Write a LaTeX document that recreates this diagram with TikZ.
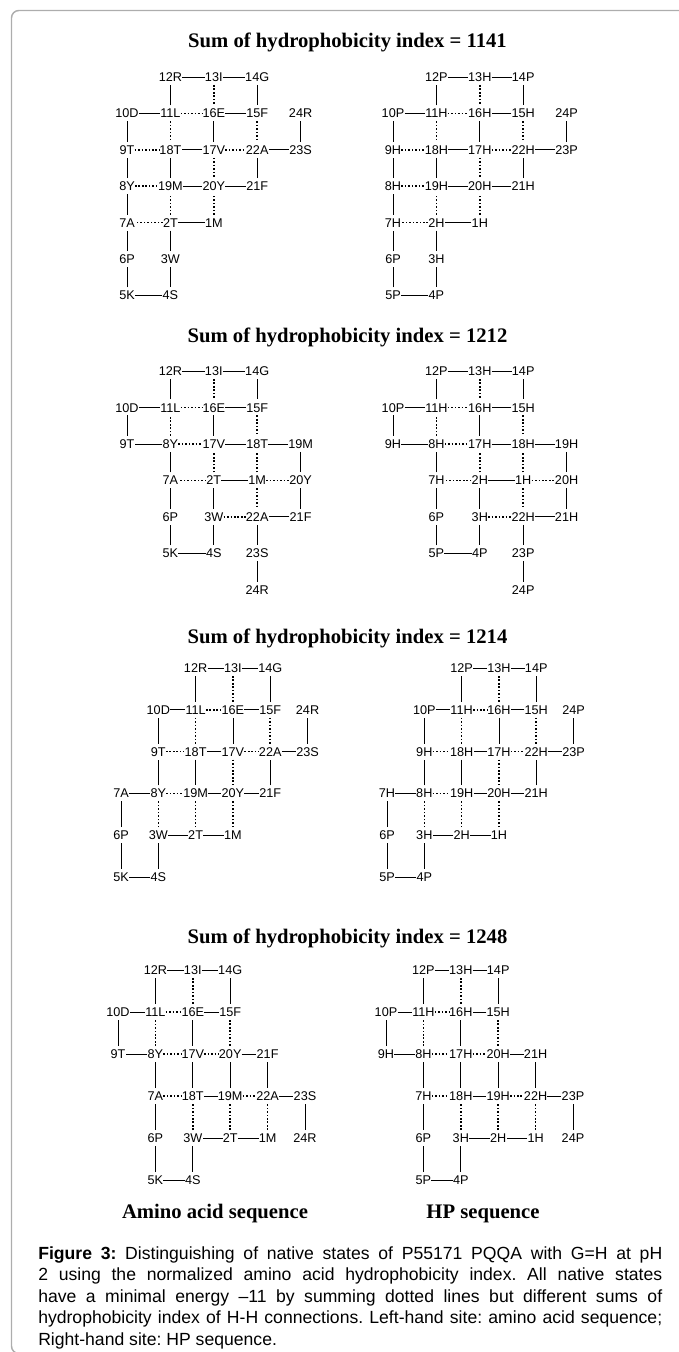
\documentclass[tikz,border=0pt]{standalone}
\usepackage{fontspec}
\setmainfont{Liberation Serif}
\setsansfont{Liberation Sans}
\usetikzlibrary{positioning}

\begin{document}
\begin{tikzpicture}[
  x=0.75pt, y=-0.75pt,
  res/.style={font=\sffamily\fontsize{9.5}{11}\selectfont, inner xsep=0pt, inner ysep=2.4pt, text height=6.8pt, text depth=0pt},
  bond/.style={line width=0.6pt},
  contact/.style={line width=1.2pt, dash pattern=on 1.2pt off 1.4pt},
  heading/.style={font=\fontsize{15.5}{18}\selectfont\bfseries, inner sep=0pt},
  frame/.style={draw=black!32, line width=1.1pt, rounded corners=5.5pt}
]
\useasboundingbox (0,0) rectangle (678,1352);
\draw[frame] (720,10.5) -- (11.5,10.5) -- (11.5,1353.5) -- (720,1353.5);

% fold 1
\node[heading, anchor=base] (t1) at (347.5,48) {Sum of hydrophobicity index = 1141};
\begin{scope}[shift={(127,77)}, x=32.55pt, y=-27.3pt]
  \foreach \i/\a/\h/\c/\r in {1/M/H/2/4, 2/T/H/1/4, 3/W/H/1/5, 4/S/P/1/6, 5/K/P/0/6, 6/P/P/0/5,
      7/A/H/0/4, 8/Y/H/0/3, 9/T/H/0/2, 10/D/P/0/1, 11/L/H/1/1, 12/R/P/1/0, 13/I/H/2/0, 14/G/P/3/0,
      15/F/H/3/1, 16/E/H/2/1, 17/V/H/2/2, 18/T/H/1/2, 19/M/H/1/3, 20/Y/H/2/3, 21/F/H/3/3,
      22/A/H/3/2, 23/S/P/4/2, 24/R/P/4/1}{
    \node[res] (f1a\i) at (\c,\r) {\i\a};
    \node[res] (f1h\i) at ([xshift=199.5pt]\c,\r) {\i\h};
  }
  \foreach \i [evaluate=\i as \j using int(\i+1)] in {1,...,23}{
    \draw[bond] (f1a\i) -- (f1a\j);
    \draw[bond] (f1h\i) -- (f1h\j);
  }
  \foreach \u/\v in {11/16, 13/16, 11/18, 9/18, 17/22, 15/22, 8/19, 17/20, 2/19, 1/20, 2/7}{
    \draw[contact] (f1a\u) -- (f1a\v);
    \draw[contact] (f1h\u) -- (f1h\v);
  }
\end{scope}

% fold 2
\node[heading, anchor=base] (t2) at (347.5,342) {Sum of hydrophobicity index = 1212};
\begin{scope}[shift={(127,371)}, x=32.55pt, y=-27.35pt]
  \foreach \i/\a/\h/\c/\r in {1/M/H/3/3, 2/T/H/2/3, 3/W/H/2/4, 4/S/P/2/5, 5/K/P/1/5, 6/P/P/1/4,
      7/A/H/1/3, 8/Y/H/1/2, 9/T/H/0/2, 10/D/P/0/1, 11/L/H/1/1, 12/R/P/1/0, 13/I/H/2/0, 14/G/P/3/0,
      15/F/H/3/1, 16/E/H/2/1, 17/V/H/2/2, 18/T/H/3/2, 19/M/H/4/2, 20/Y/H/4/3, 21/F/H/4/4,
      22/A/H/3/4, 23/S/P/3/5, 24/R/P/3/6}{
    \node[res] (f2a\i) at (\c,\r) {\i\a};
    \node[res] (f2h\i) at ([xshift=199.5pt]\c,\r) {\i\h};
  }
  \foreach \i [evaluate=\i as \j using int(\i+1)] in {1,...,23}{
    \draw[bond] (f2a\i) -- (f2a\j);
    \draw[bond] (f2h\i) -- (f2h\j);
  }
  \foreach \u/\v in {11/16, 13/16, 8/11, 8/17, 15/18, 2/17, 1/18, 2/7, 1/20, 1/22, 3/22}{
    \draw[contact] (f2a\u) -- (f2a\v);
    \draw[contact] (f2h\u) -- (f2h\v);
  }
\end{scope}

% fold 3
\node[heading, anchor=base] (t3) at (347.5,643) {Sum of hydrophobicity index = 1214};
\begin{scope}[shift={(121,668)}, x=27.98pt, y=-31.35pt]
  \foreach \i/\a/\h/\c/\r in {1/M/H/3/4, 2/T/H/2/4, 3/W/H/1/4, 4/S/P/1/5, 5/K/P/0/5, 6/P/P/0/4,
      7/A/H/0/3, 8/Y/H/1/3, 9/T/H/1/2, 10/D/P/1/1, 11/L/H/2/1, 12/R/P/2/0, 13/I/H/3/0, 14/G/P/4/0,
      15/F/H/4/1, 16/E/H/3/1, 17/V/H/3/2, 18/T/H/2/2, 19/M/H/2/3, 20/Y/H/3/3, 21/F/H/4/3,
      22/A/H/4/2, 23/S/P/5/2, 24/R/P/5/1}{
    \node[res] (f3a\i) at (\c,\r) {\i\a};
    \node[res] (f3h\i) at ([xshift=199.5pt]\c,\r) {\i\h};
  }
  \foreach \i [evaluate=\i as \j using int(\i+1)] in {1,...,23}{
    \draw[bond] (f3a\i) -- (f3a\j);
    \draw[bond] (f3h\i) -- (f3h\j);
  }
  \foreach \u/\v in {11/16, 13/16, 11/18, 9/18, 17/22, 15/22, 8/19, 17/20, 3/8, 2/19, 1/20}{
    \draw[contact] (f3a\u) -- (f3a\v);
    \draw[contact] (f3h\u) -- (f3h\v);
  }
\end{scope}

% fold 4
\node[heading, anchor=base] (t4) at (347.5,943) {Sum of hydrophobicity index = 1248};
\begin{scope}[shift={(118,970)}, x=28.05pt, y=-31.5pt]
  \foreach \i/\a/\h/\c/\r in {1/M/H/4/4, 2/T/H/3/4, 3/W/H/2/4, 4/S/P/2/5, 5/K/P/1/5, 6/P/P/1/4,
      7/A/H/1/3, 8/Y/H/1/2, 9/T/H/0/2, 10/D/P/0/1, 11/L/H/1/1, 12/R/P/1/0, 13/I/H/2/0, 14/G/P/3/0,
      15/F/H/3/1, 16/E/H/2/1, 17/V/H/2/2, 18/T/H/2/3, 19/M/H/3/3, 20/Y/H/3/2, 21/F/H/4/2,
      22/A/H/4/3, 23/S/P/5/3, 24/R/P/5/4}{
    \node[res] (f4a\i) at (\c,\r) {\i\a};
    \node[res] (f4h\i) at ([xshift=201pt]\c,\r) {\i\h};
  }
  \foreach \i [evaluate=\i as \j using int(\i+1)] in {1,...,23}{
    \draw[bond] (f4a\i) -- (f4a\j);
    \draw[bond] (f4h\i) -- (f4h\j);
  }
  \foreach \u/\v in {11/16, 13/16, 8/11, 8/17, 17/20, 15/20, 7/18, 19/22, 3/18, 2/19, 1/22}{
    \draw[contact] (f4a\u) -- (f4a\v);
    \draw[contact] (f4h\u) -- (f4h\v);
  }
\end{scope}

\node[heading, anchor=base] (aalabel) at (215,1218) {Amino acid sequence};
\node[heading, anchor=base] (hplabel) at (483,1218) {HP sequence};

\node[anchor=north west, inner sep=0pt, text width=468pt, align=justify,
  font=\sffamily\fontsize{13.2}{16.2}\selectfont] (caption) at (38,1246)
  {\frenchspacing\tolerance=10000\hyphenpenalty=10000\exhyphenpenalty=10000
   \textbf{Figure 3:} Distinguishing of native states of P55171 PQQA with G=H at pH\linebreak
   2 using the normalized amino acid hydrophobicity index. All native states\linebreak
   have a minimal energy –11 by summing dotted lines but different sums of\linebreak
   hydrophobicity index of H-H connections. Left-hand site: amino acid sequence;\linebreak
   Right-hand site: HP sequence.};
\end{tikzpicture}
\end{document}
